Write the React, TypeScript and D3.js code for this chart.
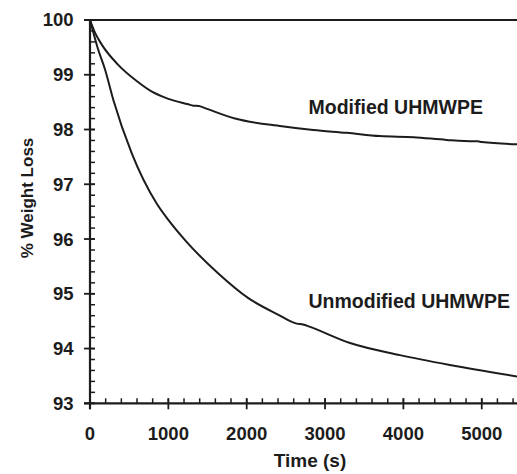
import React from "react";
import * as d3 from "d3";

const modTime = [0, 70, 150, 360, 600, 790, 1000, 1255, 1320, 1390, 1460, 1850, 2450, 2850, 3276, 3700, 4130, 4550, 4900, 4950, 5000, 5450];
const modValue = [100, 99.75, 99.55, 99.18, 98.88, 98.69, 98.56, 98.46, 98.435, 98.43, 98.395, 98.2, 98.06, 97.99, 97.94, 97.88, 97.86, 97.81, 97.785, 97.785, 97.77, 97.73];

const unmodTime = [0, 100, 191, 298, 532, 851, 1000, 1213, 1638, 2021, 2400, 2640, 2720, 2800, 3319, 3957, 4595, 5450];
const unmodValue = [100, 99.48, 99.1, 98.54, 97.57, 96.65, 96.35, 95.98, 95.37, 94.92, 94.62, 94.455, 94.44, 94.4, 94.1, 93.88, 93.7, 93.49];

const xTicks = [0, 1000, 2000, 3000, 4000, 5000];
const yTicks = [93, 94, 95, 96, 97, 98, 99, 100];
const xMinor = d3.range(0, 5451, 200);
const yMinor = d3.range(93, 100.001, 0.2);

const labels = [
  { text: "Modified UHMWPE", t: 2800, v: 98.283 },
  { text: "Unmodified UHMWPE", t: 2800, v: 94.735 },
];

const W = 517, H = 474;
const left = 90, top = 20, bottom = 403.3, right = 517;
const FONT = "'Liberation Sans', Arial, Helvetica, sans-serif";
const INK = "#1c1c1c";

export default function App() {
  const x = d3.scaleLinear().domain([0, 5450]).range([left, right]);
  const y = d3.scaleLinear().domain([93, 100]).range([bottom, top]);
  const line = d3.line<[number, number]>().x((d) => x(d[0])).y((d) => y(d[1])).curve(d3.curveMonotoneX);
  const modData = modTime.map((t, i) => [t, modValue[i]] as [number, number]);
  const unmodData = unmodTime.map((t, i) => [t, unmodValue[i]] as [number, number]);

  return (
    <svg width={W} height={H} style={{ position: "absolute", left: 0, top: 0, background: "#fff" }}>
      <g fill="none" stroke={INK} strokeWidth={2}>
        <path d={line(modData) || ""} />
        <path d={line(unmodData) || ""} />
      </g>
      <g stroke={INK}>
        <line x1={left} x2={left} y1={top} y2={bottom + 6} strokeWidth={2.2} />
        <line x1={left - 6} x2={right} y1={bottom} y2={bottom} strokeWidth={2.2} />
        <line x1={left - 6} x2={right} y1={top} y2={top} strokeWidth={1.8} />
        {yMinor.map((v, i) => (
          <line key={"ym" + i} x1={left} x2={left + 5} y1={y(v)} y2={y(v)} strokeWidth={1.5} />
        ))}
        {yTicks.map((v) => (
          <line key={"yt" + v} x1={left - 6} x2={left + 5} y1={y(v)} y2={y(v)} strokeWidth={1.8} />
        ))}
        {xMinor.map((t, i) => (
          <line key={"xm" + i} x1={x(t)} x2={x(t)} y1={bottom} y2={bottom - 5} strokeWidth={1.5} />
        ))}
        {xTicks.map((t) => (
          <line key={"xt" + t} x1={x(t)} x2={x(t)} y1={bottom - 5} y2={bottom + 6} strokeWidth={1.8} />
        ))}
      </g>
      <g fill={INK} fontFamily={FONT} fontWeight="bold" fontSize={18.5}>
        {yTicks.map((v) => (
          <text key={"yl" + v} x={73.5} y={y(v)} dy="0.35em" textAnchor="end">
            {v}
          </text>
        ))}
        {xTicks.map((t) => (
          <text key={"xl" + t} x={x(t)} y={440} textAnchor="middle">
            {t}
          </text>
        ))}
        <text x={310} y={467} textAnchor="middle" fontSize={19}>Time (s)</text>
        <text transform="translate(33,198) rotate(-90)" textAnchor="middle" fontSize={17}>
          % Weight Loss
        </text>
        {labels.map((l) => (
          <text key={l.text} x={308.5} y={y(l.v)} fontSize={19.5}>
            {l.text}
          </text>
        ))}
      </g>
    </svg>
  );
}
